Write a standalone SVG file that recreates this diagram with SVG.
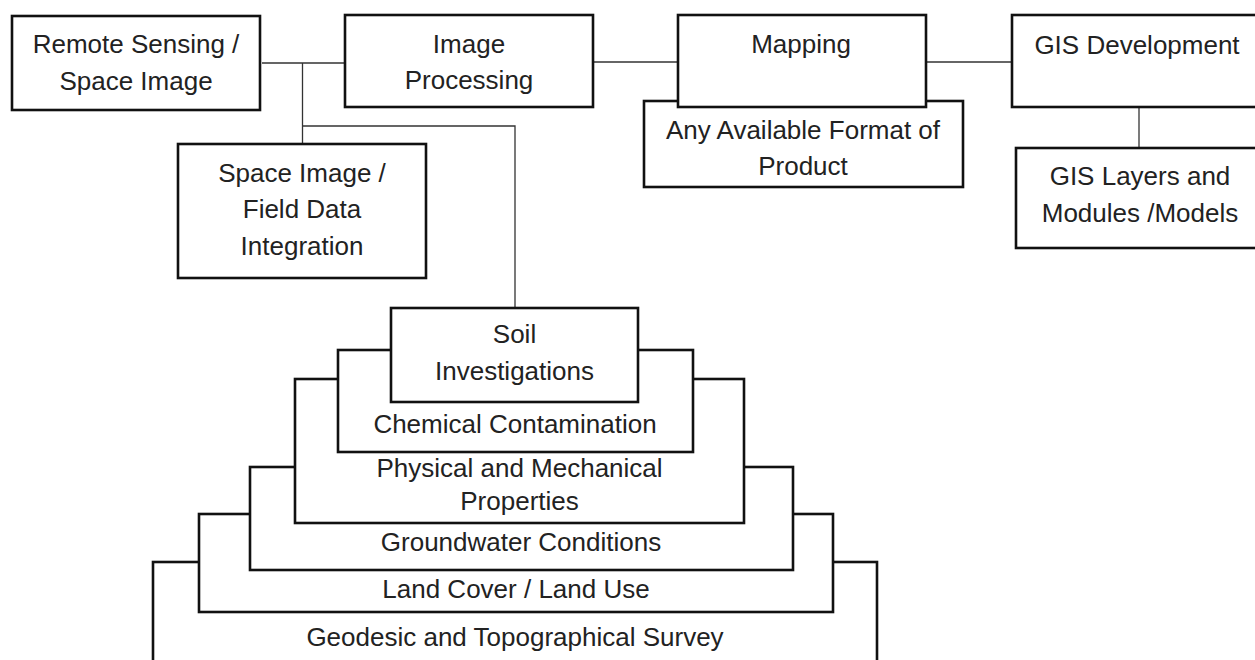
<svg xmlns="http://www.w3.org/2000/svg" width="1255" height="660" viewBox="0 0 1255 660">
<style>
.box{fill:#fff;stroke:#111;stroke-width:2.6}
.conn{fill:none;stroke:#333;stroke-width:1.3}
text{font-family:"Liberation Sans",Arial,sans-serif;font-size:26px;fill:#222;text-anchor:middle}
</style>
<rect width="1255" height="660" fill="#fff"/>
<g id="connectors">
<path class="conn" d="M262 63H345M302.5 63V144M302.5 126H515V308"/>
<path class="conn" d="M593 62H678"/>
<path class="conn" d="M926 62H1012"/>
<path class="conn" d="M1139 107V148"/>
</g>
<g id="remote-sensing">
<rect class="box" x="12" y="16" width="248" height="94"/>
<text x="136" y="53">Remote Sensing /</text>
<text x="136" y="90">Space Image</text>
</g>
<g id="image-processing">
<rect class="box" x="345" y="15" width="248" height="92"/>
<text x="469" y="53">Image</text>
<text x="469" y="89">Processing</text>
</g>
<g id="any-format">
<rect class="box" x="644" y="101" width="319" height="86"/>
<text x="803" y="139">Any Available Format of</text>
<text x="803" y="175">Product</text>
</g>
<g id="mapping">
<rect class="box" x="678" y="15" width="248" height="92"/>
<text x="801" y="53">Mapping</text>
</g>
<g id="gis-development">
<rect class="box" x="1012" y="15" width="260" height="92"/>
<text x="1137" y="54">GIS Development</text>
</g>
<g id="gis-layers">
<rect class="box" x="1016" y="148" width="256" height="100"/>
<text x="1140" y="185">GIS Layers and</text>
<text x="1140" y="222">Modules /Models</text>
</g>
<g id="field-data">
<rect class="box" x="178" y="144" width="248" height="134"/>
<text x="302" y="182">Space Image /</text>
<text x="302" y="218">Field Data</text>
<text x="302" y="255">Integration</text>
</g>
<g id="geodesic">
<rect class="box" x="153" y="562" width="724" height="110"/>
<text x="515" y="646">Geodesic and Topographical Survey</text>
</g>
<g id="land-cover">
<rect class="box" x="199" y="514" width="634" height="98"/>
<text x="516" y="598">Land Cover / Land Use</text>
</g>
<g id="groundwater">
<rect class="box" x="250" y="467" width="543" height="103"/>
<text x="521" y="551">Groundwater Conditions</text>
</g>
<g id="physical">
<rect class="box" x="295" y="379" width="449" height="144"/>
<text x="519.5" y="477">Physical and Mechanical</text>
<text x="519.5" y="510">Properties</text>
</g>
<g id="chemical">
<rect class="box" x="338" y="350" width="355" height="102"/>
<text x="515" y="433">Chemical Contamination</text>
</g>
<g id="soil">
<rect class="box" x="391" y="308" width="247" height="94"/>
<text x="514.5" y="343">Soil</text>
<text x="514.5" y="380">Investigations</text>
</g>
</svg>
